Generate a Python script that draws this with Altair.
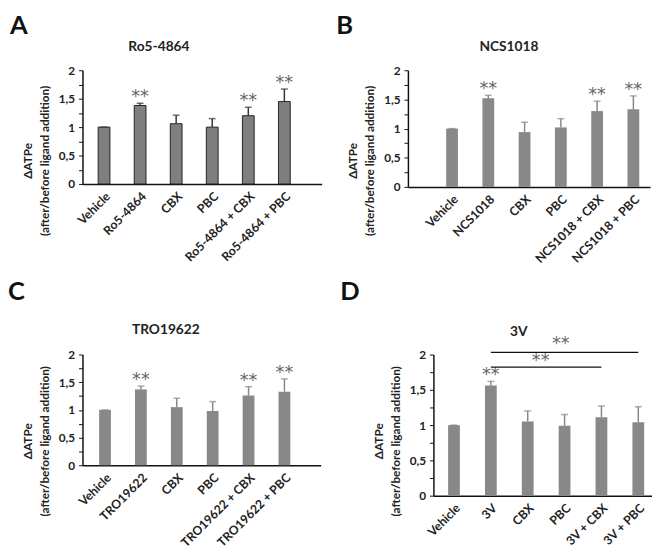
import altair as alt
import pandas as pd

# ---------------- data ----------------
cats_A = ["Vehicle", "Ro5-4864", "CBX", "PBC", "Ro5-4864 + CBX", "Ro5-4864 + PBC"]
vals_A = [1.00, 1.38, 1.06, 1.00, 1.20, 1.45]
errs_A = [0.00, 0.04, 0.15, 0.15, 0.15, 0.22]
sig_A = ["", "**", "", "", "**", "**"]

cats_B = ["Vehicle", "NCS1018", "CBX", "PBC", "NCS1018 + CBX", "NCS1018 + PBC"]
vals_B = [1.00, 1.52, 0.94, 1.02, 1.30, 1.33]
errs_B = [0.00, 0.05, 0.17, 0.15, 0.17, 0.23]
sig_B = ["", "**", "", "", "**", "**"]

cats_C = ["Vehicle", "TRO19622", "CBX", "PBC", "TRO19622 + CBX", "TRO19622 + PBC"]
vals_C = [1.00, 1.37, 1.05, 0.98, 1.26, 1.33]
errs_C = [0.00, 0.06, 0.16, 0.17, 0.16, 0.23]
sig_C = ["", "**", "", "", "**", "**"]

cats_D = ["Vehicle", "3V", "CBX", "PBC", "3V + CBX", "3V + PBC"]
vals_D = [1.00, 1.56, 1.05, 0.99, 1.11, 1.04]
errs_D = [0.00, 0.06, 0.15, 0.16, 0.16, 0.22]
sig_D = ["", "**", "", "", "", ""]

# significance brackets in panel D
br_from = ["3V", "3V"]
br_to = ["3V + CBX", "3V + PBC"]
br_y = [1.82, 2.03]
br_label = ["**", "**"]

FONT = "Lato"
STARFONT = "DejaVu Sans"
y_ticks = [0, 0.25, 0.5, 0.75, 1, 1.25, 1.5, 1.75, 2]


def panel(letter, title, cats, vals, errs, sig, width, height, fill, stroke,
          pad_outer, band_align, title_x, title_y, letter_x, letter_y, ytitle_y,
          bracket=False):
    df = pd.DataFrame({"cat": cats, "val": vals, "err": errs, "sig": sig})
    df["top"] = df["val"] + df["err"]

    xscale = alt.Scale(domain=cats, paddingInner=0.7, paddingOuter=pad_outer, align=band_align)
    xaxis = alt.Axis(labelAngle=315, labelFont=FONT, labelFontSize=12.5,
                     labelFontWeight="bold", labelColor="#222",
                     ticks=False, domainColor="#111", domainWidth=1.5,
                     labelPadding=6)
    yaxis = alt.Axis(values=y_ticks, grid=False, labelOverlap=False,
                     labelExpr="datum.value % 0.5 == 0 ? replace(format(datum.value, '~g'), '.', ',') : ''",
                     labelFont=FONT, labelFontSize=12, labelFontWeight="bold",
                     labelColor="#222", tickSize=4, tickColor="#111",
                     labelPadding=4,
                     domainColor="#111", domainWidth=1.5,
                     titleFont=FONT, titleFontSize=12, titleFontWeight="bold",
                     titleColor="#222", titleAngle=270, titleLineHeight=17,
                     titleAlign="center", titleBaseline="bottom",
                     titleX=-49, titleY=ytitle_y)
    ytitle = ["ΔATPe", "(after/before ligand addition)"]
    yscale = alt.Scale(domain=[0, 2])

    def X(field="cat"):
        return alt.X(f"{field}:N", title=None, scale=xscale, axis=xaxis)

    def Y(field):
        return alt.Y(f"{field}:Q", title=ytitle, scale=yscale, axis=yaxis)

    base = alt.Chart(df)
    if stroke:
        bars = base.mark_bar(size=12, color=fill, stroke=stroke, strokeWidth=1).encode(x=X(), y=Y("val"))
        ecol = "#333"
    else:
        bars = base.mark_bar(size=12, color=fill).encode(x=X(), y=Y("val"))
        ecol = fill
    erule = base.mark_rule(color=ecol, strokeWidth=1.5).encode(x=X(), y=Y("val"), y2="top:Q")
    ecap = base.mark_tick(color=ecol, size=7, thickness=1.5).encode(x=X(), y=Y("top"))
    stars = base.mark_text(font=STARFONT, fontSize=18, color="#666", baseline="alphabetic",
                           dy=-1).encode(x=X(), y=Y("top"), text="sig:N")
    lab = alt.Chart(pd.DataFrame({"t": [letter]})).mark_text(
        font=FONT, fontSize=26, fontWeight="bold", color="#111", align="left",
        baseline="top").encode(x=alt.value(letter_x), y=alt.value(letter_y), text="t:N")
    ttl = alt.Chart(pd.DataFrame({"t": [title]})).mark_text(
        font=FONT, fontSize=14, fontWeight="bold", color="#222", align="center",
        baseline="alphabetic").encode(x=alt.value(title_x), y=alt.value(title_y), text="t:N")

    layers = [bars, erule, ecap, stars, lab, ttl]
    if bracket:
        bdf = pd.DataFrame({"cat": br_from, "cat2": br_to, "y": br_y, "s": br_label,
                            "k": [0, 1]})
        bl = alt.Chart(bdf).mark_rule(color="#111", strokeWidth=1.3).encode(
            x=X(), x2="cat2:N", y=Y("y"))
        bt1 = alt.Chart(bdf).transform_filter("datum.k == 0").mark_text(
            font=STARFONT, fontSize=18, color="#666", baseline="alphabetic", dx=-62, dy=-1
        ).encode(x=X("cat2"), y=Y("y"), text="s:N")
        bt2 = alt.Chart(bdf).transform_filter("datum.k == 1").mark_text(
            font=STARFONT, fontSize=18, color="#666", baseline="alphabetic", dx=-79, dy=-3
        ).encode(x=X("cat2"), y=Y("y"), text="s:N")
        layers += [bl, bt1, bt2]

    return alt.layer(*layers).properties(width=width, height=height)


A = panel("A", "Ro5-4864", cats_A, vals_A, errs_A, sig_A, 244, 116, "#7f7f7f", "#222",
          0.666, 0.336, 78, -20, -74, -58, 92)
B = panel("B", "NCS1018", cats_B, vals_B, errs_B, sig_B, 247, 119, "#888888", None,
          0.688, 0.775, 103, -20, -73, -58, 92)
C = panel("C", "TRO19622", cats_C, vals_C, errs_C, sig_C, 243, 113, "#888888", None,
          0.669, 0.357, 85, -21, -76, -77, 88)
D = panel("D", "3V", cats_D, vals_D, errs_D, sig_D, 223, 144, "#888888", None,
          0.315, 0.648, 87, -19, -95, -77, 88, bracket=True)

chart = alt.vconcat(
    alt.hconcat(A, B, spacing=15),
    alt.hconcat(C, D, spacing=20),
    spacing=14,
).configure(padding=0, background="white").configure_view(stroke=None)

chart.save("out.html", embed_options={"renderer": "svg", "actions": False})
